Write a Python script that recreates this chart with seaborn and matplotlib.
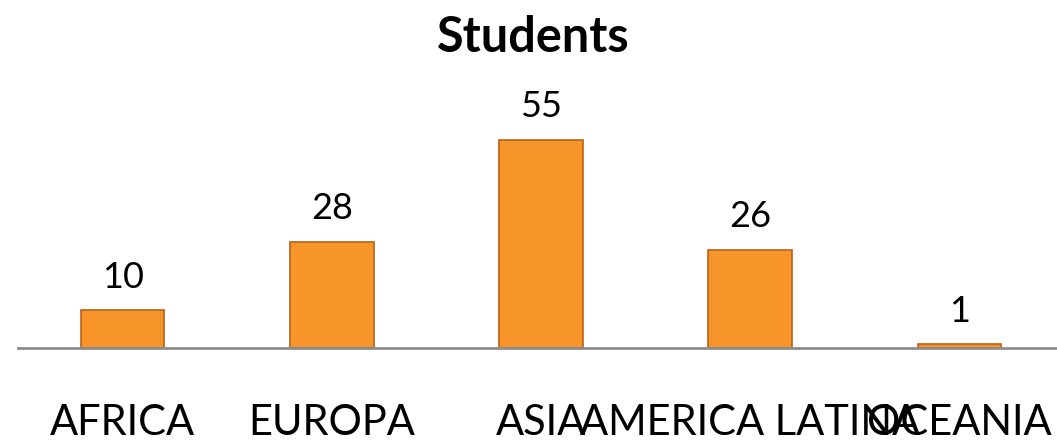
import matplotlib
matplotlib.use("Agg")
import matplotlib.pyplot as plt
import seaborn as sns
import pandas as pd

regions = ["AFRICA", "EUROPA", "ASIA", "AMERICA LATINA", "OCEANIA"]
students = [10, 28, 55, 26, 1]

data = pd.DataFrame({"region": regions, "students": students})

sns.set_style("white")
plt.rcParams["font.family"] = ["Lato", "DejaVu Sans"]
plt.rcParams["text.color"] = "black"
plt.rcParams["xtick.color"] = "black"

fig = plt.figure(figsize=(10.57, 4.41), dpi=100)
ax = fig.add_axes([18 / 1057, 93 / 441, 1046 / 1057, 348 / 441])

sns.barplot(data=data, x="region", y="students", color="#F7942A",
            edgecolor="#B8621A", linewidth=1.2, width=0.4, saturation=1, ax=ax)

ax.set_xlim(-0.5, 4.5)
ax.set_ylim(0, 92)

for i, v in enumerate(students):
    ax.annotate(str(v), (i, v), xytext=(0, 12), textcoords="offset points",
                ha="center", va="bottom", fontsize=26, color="black")

ax.set_xlabel("")
ax.set_ylabel("")
ax.set_yticks([])
ax.tick_params(axis="x", length=0, pad=40, labelsize=30, labelcolor="black")
for s in ["top", "left", "right"]:
    ax.spines[s].set_visible(False)
ax.spines["bottom"].set_color("#8C8C8C")
ax.spines["bottom"].set_linewidth(2)

fig.text(533 / 1057, 1 - 38 / 441, "Students", ha="center", va="center",
         fontsize=35, fontweight="bold", color="black")

fig.savefig("out.png", dpi=100)
